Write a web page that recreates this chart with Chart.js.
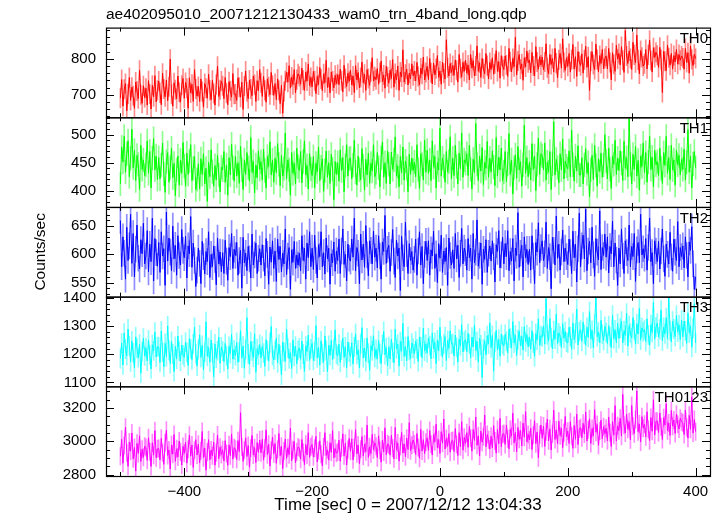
<!DOCTYPE html>
<html>
<head>
<meta charset="utf-8">
<title>wam0 light curve</title>
<script src="https://cdn.jsdelivr.net/npm/chart.js@4.4.1/dist/chart.umd.min.js"></script>
<style>
  html, body { margin: 0; padding: 0; background: #fff; }
</style>
</head>
<body>
<canvas id="lc" width="724" height="516"></canvas>
<script>
// time bins: first bin and bin width in sec (relative to 2007/12/12 13:04:33)
const tStart = -500;
const tStep = 2;

const bandNames = ['TH0', 'TH1', 'TH2', 'TH3', 'TH0123'];
const bandColors = ['#ff0000', '#00ff00', '#0000ff', '#00ffff', '#ff00ff'];
const bandErrColors = ['rgba(255,0,0,0.45)', 'rgba(0,255,0,0.45)', 'rgba(0,0,255,0.45)', 'rgba(0,255,255,0.45)', 'rgba(255,0,255,0.45)'];
// typical 1-sigma error bar per bin, counts/sec
const bandErr = [27, 21, 23, 34, 52];

// counts/sec (one row = 60 sec)
const th0 = [
  690, 742, 668, 715, 731, 655, 702, 748, 684, 721, 697, 662, 735, 710, 689, 768, 700, 676, 725, 692, 718, 671, 739, 702, 660, 726, 694, 753, 680, 712,
  738, 705, 672, 760, 716, 694, 741, 683, 722, 799, 701, 668, 733, 714, 689, 752, 707, 679, 726, 745, 690, 734, 718, 662, 747, 705, 729, 681, 770, 716,
  696, 723, 681, 744, 709, 665, 731, 718, 690, 757, 712, 686, 740, 703, 671, 728, 779, 695, 714, 738, 725, 689, 748, 704, 672, 736, 711, 693, 759, 701,
  702, 684, 747, 721, 693, 735, 659, 724, 766, 708, 689, 741, 716, 697, 752, 728, 681, 739, 711, 770, 733, 695, 751, 712, 679, 744, 722, 700, 762, 726,
  698, 731, 686, 744, 712, 675, 726, 648, 708, 739, 762, 735, 781, 718, 749, 728, 770, 705, 742, 758, 751, 729, 774, 740, 712, 763, 738, 786, 725, 748,
  722, 765, 739, 703, 751, 727, 776, 744, 711, 758, 733, 796, 720, 748, 705, 763, 738, 719, 754, 731, 756, 728, 771, 739, 708, 782, 745, 723, 760, 737,
  769, 727, 752, 706, 781, 741, 762, 719, 748, 791, 733, 757, 712, 770, 745, 726, 764, 803, 738, 750, 742, 773, 729, 761, 794, 736, 755, 718, 779, 750,
  732, 768, 745, 798, 721, 759, 741, 780, 712, 763, 749, 825, 735, 757, 771, 727, 760, 744, 786, 753, 766, 738, 790, 751, 727, 774, 757, 805, 741, 762,
  779, 742, 801, 761, 730, 788, 755, 772, 809, 748, 766, 729, 791, 760, 744, 853, 775, 752, 787, 762, 781, 754, 797, 768, 735, 812, 773, 749, 790, 765,
  796, 760, 783, 741, 812, 774, 795, 752, 780, 836, 765, 789, 748, 801, 772, 758, 815, 781, 744, 790, 770, 803, 757, 786, 823, 765, 792, 746, 809, 779,
  770, 808, 783, 751, 829, 792, 764, 801, 778, 860, 755, 794, 812, 771, 786, 740, 803, 777, 822, 789, 797, 761, 818, 780, 752, 834, 791, 771, 806, 783,
  805, 769, 791, 842, 775, 758, 812, 784, 801, 763, 829, 788, 747, 797, 815, 774, 856, 790, 768, 803, 779, 815, 763, 798, 840, 772, 806, 751, 820, 792,
  781, 814, 760, 797, 835, 776, 806, 712, 793, 820, 784, 770, 841, 798, 763, 809, 787, 826, 772, 801, 808, 772, 829, 790, 741, 817, 785, 765, 838, 799,
  815, 783, 834, 796, 762, 879, 808, 787, 822, 801, 770, 846, 811, 789, 866, 797, 758, 823, 804, 780, 786, 826, 772, 811, 852, 795, 763, 831, 804, 818,
  810, 776, 832, 798, 706, 821, 793, 767, 838, 803, 782, 815, 771, 809, 791, 826, 785, 812, 796, 808, 802, 771, 829, 790, 817, 760, 836, 798, 781, 813,
  801
];
const th1 = [
  412, 478, 451, 497, 433, 466, 489, 425, 458, 510, 441, 472, 418, 463, 447, 402, 481, 438, 455, 427, 446, 489, 431, 470, 405, 458, 493, 437, 462, 420,
  459, 421, 446, 485, 430, 397, 452, 468, 415, 441, 476, 423, 449, 391, 437, 462, 410, 454, 431, 486, 444, 408, 467, 429, 453, 482, 418, 440, 461, 402,
  420, 448, 403, 457, 429, 466, 412, 440, 381, 451, 425, 473, 434, 408, 445, 419, 463, 428, 398, 442, 437, 470, 415, 446, 392, 459, 428, 483, 441, 417,
  461, 426, 450, 413, 479, 437, 402, 455, 429, 468, 441, 417, 495, 433, 452, 396, 446, 423, 471, 438, 452, 419, 474, 436, 405, 461, 443, 487, 428, 455,
  415, 458, 432, 484, 447, 409, 463, 426, 440, 503, 421, 455, 437, 392, 468, 431, 449, 412, 476, 443, 436, 470, 414, 452, 489, 428, 445, 403, 466, 439,
  427, 461, 405, 449, 434, 478, 418, 442, 457, 399, 436, 471, 424, 450, 413, 465, 439, 384, 452, 429, 450, 417, 473, 436, 459, 398, 445, 482, 426, 457,
  458, 421, 446, 490, 433, 410, 462, 437, 419, 475, 444, 401, 456, 428, 467, 413, 449, 435, 482, 425, 432, 468, 441, 407, 459, 487, 424, 450, 413, 471,
  447, 412, 469, 438, 455, 496, 426, 444, 407, 461, 432, 478, 419, 453, 440, 398, 465, 429, 458, 436, 451, 425, 482, 438, 404, 466, 447, 419, 490, 433,
  472, 431, 455, 418, 489, 442, 461, 405, 450, 437, 512, 426, 458, 444, 415, 470, 433, 452, 496, 421, 458, 427, 481, 443, 412, 467, 439, 503, 424, 455,
  449, 466, 427, 481, 438, 403, 456, 432, 520, 447, 418, 462, 435, 477, 411, 451, 440, 488, 424, 458, 433, 471, 442, 409, 495, 426, 460, 437, 476, 418,
  433, 470, 416, 448, 502, 429, 455, 394, 441, 464, 422, 479, 437, 452, 408, 446, 517, 431, 459, 425, 451, 419, 484, 438, 462, 400, 447, 494, 429, 466,
  462, 437, 485, 419, 451, 433, 470, 402, 448, 523, 428, 456, 441, 414, 466, 437, 492, 421, 453, 444, 439, 471, 425, 508, 446, 417, 462, 435, 480, 428,
  428, 459, 412, 446, 475, 431, 450, 389, 437, 463, 420, 481, 445, 408, 457, 434, 467, 424, 446, 500, 453, 421, 476, 438, 404, 462, 447, 490, 429, 458,
  436, 471, 449, 418, 488, 440, 459, 425, 528, 447, 412, 465, 438, 479, 426, 454, 401, 462, 443, 485, 432, 468, 415, 451, 497, 438, 460, 407, 472, 446,
  452, 427, 476, 440, 413, 468, 445, 497, 431, 459, 420, 481, 437, 455, 410, 472, 446, 463, 428, 456, 438, 474, 419, 451, 509, 433, 462, 405, 448, 470,
  441
];
const th2 = [
  660, 578, 631, 602, 556, 648, 589, 615, 671, 584, 637, 560, 609, 652, 593, 574, 626, 601, 655, 583, 597, 642, 569, 618, 587, 664, 553, 628, 603, 579,
  621, 568, 640, 597, 610, 545, 675, 588, 629, 604, 571, 650, 592, 616, 563, 633, 598, 581, 644, 607, 594, 632, 558, 615, 601, 667, 577, 620, 589, 543,
  572, 611, 584, 548, 623, 596, 565, 605, 587, 640, 559, 600, 578, 615, 591, 546, 629, 583, 604, 569, 603, 566, 625, 588, 554, 612, 596, 637, 575, 609,
  598, 621, 563, 589, 607, 540, 630, 585, 602, 571, 614, 592, 558, 636, 581, 599, 620, 566, 593, 610, 581, 617, 593, 562, 628, 600, 547, 613, 586, 624,
  575, 606, 552, 627, 591, 614, 569, 602, 583, 645, 564, 597, 612, 538, 608, 586, 623, 575, 599, 581, 602, 571, 633, 589, 611, 556, 620, 594, 640, 578,
  611, 573, 634, 589, 558, 617, 596, 640, 578, 603, 565, 629, 592, 611, 547, 601, 585, 622, 570, 606, 589, 627, 566, 606, 645, 582, 600, 553, 618, 593,
  588, 627, 595, 664, 571, 612, 602, 548, 636, 590, 618, 577, 651, 599, 562, 624, 607, 583, 641, 595, 611, 576, 633, 597, 556, 622, 605, 669, 584, 609,
  616, 570, 603, 644, 588, 559, 625, 597, 611, 536, 632, 594, 578, 657, 601, 566, 619, 589, 605, 572, 591, 627, 563, 606, 640, 581, 614, 548, 600, 623,
  589, 624, 563, 608, 597, 641, 575, 601, 550, 619, 593, 634, 568, 606, 587, 612, 545, 629, 598, 581, 608, 575, 637, 592, 616, 559, 602, 646, 583, 611,
  603, 572, 628, 594, 611, 556, 637, 585, 604, 661, 579, 598, 620, 547, 609, 591, 626, 568, 602, 615, 588, 624, 596, 551, 617, 605, 642, 576, 599, 630,
  583, 619, 596, 642, 571, 605, 588, 628, 553, 611, 598, 674, 577, 602, 616, 560, 631, 594, 609, 582, 609, 572, 633, 597, 548, 621, 604, 656, 585, 612,
  624, 589, 601, 657, 575, 612, 596, 539, 630, 607, 581, 668, 593, 618, 572, 604, 643, 587, 611, 596, 582, 627, 603, 566, 641, 594, 618, 551, 610, 673,
  578, 615, 634, 592, 680, 571, 606, 623, 585, 648, 599, 561, 628, 604, 590, 677, 573, 612, 598, 636, 595, 631, 567, 614, 601, 659, 578, 620, 590, 545,
  611, 583, 645, 597, 566, 624, 603, 589, 652, 578, 614, 596, 637, 552, 608, 621, 585, 671, 599, 610, 593, 628, 572, 612, 664, 587, 603, 548, 624, 606,
  587, 623, 574, 606, 645, 592, 561, 618, 600, 583, 639, 595, 570, 627, 604, 589, 658, 578, 612, 596, 615, 576, 631, 598, 560, 622, 607, 649, 583, 538,
  560
];
const th3 = [
  1185, 1240, 1162, 1275, 1218, 1195, 1290, 1230, 1173, 1248, 1205, 1152, 1262, 1221, 1188, 1236, 1133, 1209, 1257, 1194, 1223, 1176, 1251, 1199, 1148, 1234, 1212, 1279, 1190, 1227,
  1226, 1171, 1283, 1208, 1155, 1239, 1192, 1301, 1214, 1167, 1246, 1201, 1138, 1228, 1183, 1265, 1210, 1176, 1233, 1198, 1189, 1243, 1207, 1160, 1256, 1219, 1181, 1237, 1296, 1202,
  1158, 1217, 1269, 1189, 1232, 1145, 1208, 1316, 1193, 1224, 1172, 1251, 1205, 1120, 1237, 1186, 1213, 1261, 1168, 1226, 1211, 1174, 1239, 1195, 1148, 1228, 1202, 1271, 1183, 1216,
  1195, 1242, 1171, 1208, 1284, 1186, 1229, 1150, 1217, 1330, 1201, 1164, 1245, 1212, 1189, 1273, 1136, 1220, 1197, 1235, 1187, 1229, 1204, 1157, 1252, 1213, 1176, 1241, 1299, 1196,
  1181, 1214, 1258, 1169, 1236, 1197, 1126, 1243, 1208, 1175, 1290, 1222, 1184, 1206, 1149, 1251, 1193, 1229, 1166, 1214, 1223, 1182, 1247, 1201, 1139, 1230, 1210, 1268, 1178, 1219,
  1239, 1178, 1210, 1302, 1187, 1225, 1161, 1248, 1203, 1172, 1265, 1214, 1138, 1232, 1196, 1250, 1181, 1219, 1287, 1201, 1194, 1236, 1171, 1215, 1258, 1189, 1227, 1152, 1243, 1208,
  1192, 1241, 1165, 1226, 1273, 1199, 1216, 1151, 1238, 1295, 1187, 1222, 1175, 1258, 1204, 1143, 1231, 1212, 1266, 1189, 1217, 1183, 1249, 1203, 1166, 1235, 1281, 1198, 1224, 1159,
  1227, 1183, 1254, 1206, 1170, 1289, 1219, 1236, 1158, 1245, 1211, 1310, 1192, 1228, 1177, 1263, 1214, 1185, 1240, 1222, 1201, 1247, 1219, 1174, 1262, 1226, 1188, 1293, 1211, 1236,
  1205, 1258, 1231, 1184, 1276, 1219, 1242, 1167, 1251, 1212, 1296, 1228, 1190, 1237, 1263, 1178, 1249, 1221, 1284, 1236, 1239, 1194, 1268, 1225, 1172, 1253, 1230, 1305, 1208, 1246,
  1252, 1209, 1274, 1238, 1187, 1261, 1226, 1303, 1214, 1245, 1172, 1257, 1233, 1118, 1219, 1248, 1198, 1266, 1236, 1312, 1224, 1267, 1140, 1243, 1285, 1216, 1254, 1193, 1271, 1235,
  1229, 1271, 1246, 1205, 1289, 1257, 1222, 1316, 1240, 1268, 1196, 1252, 1283, 1231, 1264, 1215, 1298, 1244, 1270, 1227, 1261, 1218, 1284, 1241, 1192, 1273, 1250, 1326, 1232, 1266,
  1262, 1301, 1236, 1398, 1270, 1248, 1327, 1259, 1219, 1284, 1254, 1343, 1238, 1276, 1265, 1224, 1309, 1257, 1281, 1243, 1240, 1296, 1263, 1218, 1311, 1252, 1274, 1361, 1233, 1280,
  1288, 1246, 1314, 1271, 1232, 1296, 1260, 1352, 1255, 1285, 1223, 1308, 1402, 1263, 1279, 1240, 1321, 1272, 1249, 1299, 1277, 1238, 1302, 1263, 1223, 1339, 1256, 1287, 1241, 1310,
  1256, 1293, 1318, 1241, 1284, 1267, 1346, 1229, 1302, 1275, 1258, 1331, 1287, 1236, 1309, 1272, 1363, 1250, 1294, 1280, 1288, 1245, 1326, 1269, 1232, 1305, 1278, 1384, 1254, 1297,
  1311, 1262, 1289, 1357, 1248, 1296, 1273, 1330, 1255, 1401, 1284, 1244, 1318, 1290, 1263, 1338, 1279, 1305, 1252, 1322, 1262, 1318, 1283, 1239, 1347, 1276, 1301, 1225, 1293, 1380,
  1240
];
const th0123 = [
  2910, 3012, 2868, 2975, 3085, 2932, 2850, 2996, 2941, 3050, 2895, 2963, 2821, 2988, 2927, 3033, 2879, 2952, 2904, 2971, 2963, 2886, 3021, 2938, 2849, 2991, 2917, 3064, 2902, 2955,
  2957, 2889, 3018, 2932, 2862, 2991, 3066, 2915, 2948, 2834, 2979, 2923, 3041, 2880, 2955, 2906, 3002, 2937, 2858, 2969, 2928, 2995, 2869, 2951, 3037, 2911, 2978, 2843, 2946, 3010,
  2918, 2983, 2871, 2944, 3059, 2902, 2960, 2827, 2936, 3010, 2889, 2948, 2913, 2996, 2857, 2931, 3038, 2896, 2965, 2921, 2950, 2882, 3004, 2927, 2856, 2979, 2914, 3043, 2893, 2962,
  2953, 2891, 3004, 2938, 3172, 2966, 2880, 2947, 3021, 2909, 2975, 2845, 2959, 3036, 2918, 2962, 2873, 2993, 2934, 3008, 2931, 3012, 2887, 2958, 3069, 2920, 2983, 2852, 2947, 3026,
  2925, 2987, 2868, 2951, 3047, 2914, 2970, 2836, 2942, 3013, 2897, 2961, 2920, 3078, 2883, 2950, 2999, 2871, 2938, 2966, 2959, 2893, 3011, 2935, 2860, 2982, 2918, 3052, 2904, 2968,
  2981, 2907, 2959, 3030, 2876, 2944, 3003, 2922, 2853, 2968, 3052, 2915, 2949, 2887, 2992, 2934, 3064, 2901, 2957, 2928, 2936, 3007, 2881, 2962, 3045, 2913, 2989, 2858, 2951, 3018,
  2940, 3015, 2889, 2962, 3071, 2925, 2978, 2866, 2953, 3029, 2911, 2984, 2938, 3097, 2903, 2967, 2926, 3042, 2949, 2991, 2971, 2902, 3033, 2947, 2875, 3008, 2936, 3081, 2920, 2985,
  2978, 2917, 3036, 2959, 2895, 3083, 2947, 2990, 2881, 2969, 3054, 2930, 2985, 2908, 3019, 2951, 3112, 2944, 2976, 3008, 2984, 2921, 3047, 2963, 2898, 3072, 2942, 3010, 2926, 2995,
  3021, 2946, 3065, 2983, 2918, 3040, 2997, 3103, 2962, 3011, 2927, 3058, 2989, 3134, 2954, 3017, 2970, 3046, 2935, 3002, 3005, 2939, 3077, 2981, 2915, 3052, 2968, 3118, 2947, 3024,
  2987, 3052, 2964, 3089, 3018, 2941, 3071, 3005, 3146, 2976, 3033, 2912, 3061, 2995, 3027, 3158, 2968, 3041, 3009, 2953, 3031, 2960, 3094, 3002, 2929, 3071, 2985, 3138, 2968, 3043,
  3047, 2981, 3098, 3016, 2955, 3072, 3031, 3169, 2990, 3054, 2938, 3083, 3012, 3066, 2972, 3109, 3025, 3178, 2997, 3041, 3008, 3079, 2951, 3037, 3124, 2986, 3056, 2902, 3041, 3097,
  3018, 3092, 2969, 3057, 3134, 3003, 3075, 2948, 3046, 3187, 3011, 3069, 2985, 3121, 3034, 3080, 2962, 3052, 3149, 3026, 3061, 2987, 3118, 3030, 2958, 3095, 3012, 3163, 2981, 3074,
  3083, 3021, 3108, 3044, 3176, 3002, 3069, 3135, 2987, 3077, 3032, 3190, 3055, 3101, 2976, 3062, 3127, 3015, 3088, 3046, 3079, 3003, 3146, 3051, 2969, 3118, 3037, 3214, 3002, 3093,
  3064, 3139, 3031, 3282, 3097, 3050, 3163, 3072, 3118, 3009, 3215, 3090, 3046, 3131, 3302, 3058, 3104, 2996, 3148, 3079, 3102, 3027, 3178, 3071, 3004, 3143, 3060, 3249, 3038, 3121,
  3121, 3053, 3170, 3087, 3011, 3142, 3098, 3226, 3064, 3110, 3035, 3185, 3091, 3128, 3047, 3163, 3102, 3074, 3139, 3118, 3112, 3041, 3188, 3083, 3019, 3156, 3072, 3267, 3050, 3131,
  3058
];
const bandData = [th0, th1, th2, th3, th0123];

// axis ranges and tick steps per panel
const xRange = [-522.5, 422.5];
const yRanges = [[637, 887], [371, 531], [525, 684], [1086, 1405], [2792, 3330]];
const yMajor = [100, 50, 50, 100, 200];
const yMinor = [20, 10, 10, 20, 50];
const xMajor = 200, xMinor = 100;

const FONT = "'Liberation Sans', Arial, Helvetica, sans-serif";
Chart.defaults.font.family = FONT;
Chart.defaults.color = '#000';

const fmtTick = v => (v < 0 ? '\u2212' + Math.abs(v) : String(v));

const datasets = [];
bandData.forEach((vals, k) => {
  // light vertical error bars behind the curve
  datasets.push({
    type: 'bar',
    label: bandNames[k] + ' err',
    data: vals.map((v, i) => ({ x: tStart + i * tStep, y: [v - bandErr[k], v + bandErr[k]] })),
    yAxisID: 'y' + k,
    backgroundColor: bandErrColors[k],
    borderWidth: 0,
    barThickness: 1,
    grouped: false,
    order: 2
  });
  datasets.push({
    type: 'line',
    label: bandNames[k],
    data: vals.map((v, i) => ({ x: tStart + i * tStep, y: v })),
    yAxisID: 'y' + k,
    borderColor: bandColors[k],
    borderWidth: 1,
    pointRadius: 0,
    tension: 0,
    fill: false,
    order: 1
  });
});

const scales = {
  x: {
    type: 'linear',
    min: xRange[0],
    max: xRange[1],
    offset: false,
    grid: { display: false, drawTicks: false, offset: false },
    border: { display: false },
    ticks: { stepSize: xMajor, includeBounds: false, autoSkip: false, maxRotation: 0, padding: 7, font: { size: 15 }, callback: fmtTick },
    title: { display: true, text: 'Time [sec] 0 = 2007/12/12 13:04:33', font: { size: 17 }, padding: { top: 0, bottom: 0 } },
    afterFit(s) { s.height = 40; }
  }
};
bandNames.forEach((n, k) => {
  scales['y' + k] = {
    type: 'linear',
    position: 'left',
    stack: 'bands',
    stackWeight: 1,
    weight: 5 - k,
    min: yRanges[k][0],
    max: yRanges[k][1],
    grid: { display: false, drawTicks: false },
    border: { display: false },
    ticks: { stepSize: yMajor[k], includeBounds: false, autoSkip: false, padding: 10, font: { size: 15 }, callback: fmtTick },
    afterFit(s) { s.width = 100; }
  };
});

// keep every dataset inside its own panel
const panelClip = {
  id: 'panelClip',
  beforeDatasetDraw(chart, args) {
    const ys = args.meta.yScale;
    const area = chart.chartArea;
    const ctx = chart.ctx;
    ctx.save();
    ctx.beginPath();
    ctx.rect(area.left, ys.top, area.right - area.left, ys.bottom - ys.top);
    ctx.clip();
  },
  afterDatasetDraw(chart) {
    chart.ctx.restore();
  }
};

// qdp style frame: boxes, inward ticks both sides, panel names, y label
const qdpFrame = {
  id: 'qdpFrame',
  afterDatasetsDraw(chart) {
    const ctx = chart.ctx;
    const area = chart.chartArea;
    const xs = chart.scales.x;
    ctx.save();
    ctx.strokeStyle = '#000';
    ctx.fillStyle = '#000';
    bandNames.forEach((name, k) => {
      const ys = chart.scales['y' + k];
      const top = ys.top, bot = ys.bottom;
      ctx.lineWidth = 1;
      ctx.beginPath();
      // y ticks
      const first = Math.ceil(ys.min / yMinor[k]) * yMinor[k];
      for (let v = first; v <= ys.max; v += yMinor[k]) {
        const py = Math.round(ys.getPixelForValue(v)) + 0.5;
        const len = v % yMajor[k] === 0 ? 8 : 4;
        ctx.moveTo(area.left, py); ctx.lineTo(area.left + len, py);
        ctx.moveTo(area.right, py); ctx.lineTo(area.right - len, py);
      }
      // x ticks
      for (let v = -500; v <= 400; v += xMinor) {
        const px = Math.round(xs.getPixelForValue(v)) + 0.5;
        const len = v % xMajor === 0 ? 8 : 4;
        ctx.moveTo(px, top); ctx.lineTo(px, top + len);
        ctx.moveTo(px, bot); ctx.lineTo(px, bot - len);
      }
      ctx.stroke();
      ctx.lineWidth = 1.2;
      ctx.strokeRect(area.left + 0.5, top + 0.5, area.right - area.left, bot - top);

      ctx.font = '15px ' + FONT;
      ctx.textAlign = 'right';
      ctx.textBaseline = 'top';
      ctx.fillText(name, area.right - 2, top + 4);
    });
    ctx.translate(41, (area.top + area.bottom) / 2);
    ctx.rotate(-Math.PI / 2);
    ctx.textAlign = 'center';
    ctx.textBaseline = 'middle';
    ctx.font = '15.5px ' + FONT;
    ctx.fillText('Counts/sec', 0, 0);
    ctx.restore();
  }
};

new Chart(document.getElementById('lc'), {
  type: 'line',
  data: { datasets },
  options: {
    responsive: false,
    animation: false,
    layout: { padding: { left: 6, right: 14, top: 0, bottom: 0 } },
    scales,
    plugins: {
      legend: { display: false },
      tooltip: { enabled: false },
      title: {
        display: true,
        text: 'ae402095010_20071212130433_wam0_trn_4band_long.qdp',
        align: 'start',
        fullSize: false,
        font: { size: 15.5, weight: 'normal' },
        padding: { top: 5, bottom: 4 }
      }
    }
  },
  plugins: [panelClip, qdpFrame]
});
</script>
</body>
</html>
